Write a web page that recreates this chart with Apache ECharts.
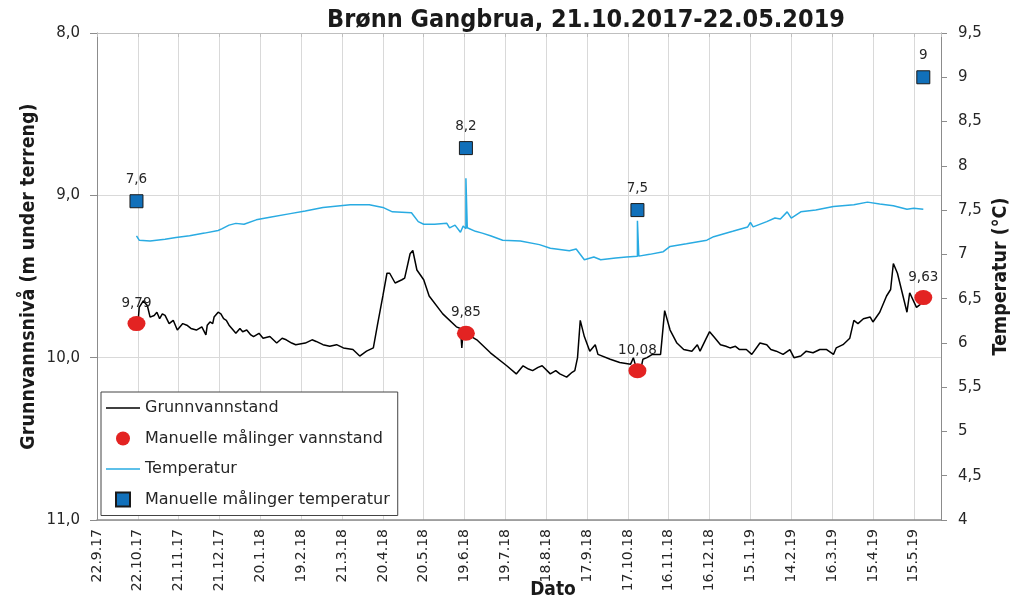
<!DOCTYPE html>
<html>
<head>
<meta charset="utf-8">
<script src="https://cdn.jsdelivr.net/npm/echarts@6/dist/echarts.min.js"></script>
<style>
  html, body { margin: 0; padding: 0; background: #fff; }
  #chart { width: 1014px; height: 599px; }
</style>
</head>
<body>
<div id="chart"></div>
<script>
// x-akse: dager etter 22.9.2017, ett merke hver 30. dag
const tickLabels = ['22.9.17', '22.10.17', '21.11.17', '21.12.17', '20.1.18', '19.2.18', '21.3.18',
  '20.4.18', '20.5.18', '19.6.18', '19.7.18', '18.8.18', '17.9.18', '17.10.18', '16.11.18',
  '16.12.18', '15.1.19', '14.2.19', '16.3.19', '15.4.19', '15.5.19'];

// Grunnvannstand (m under terreng)
const levelDates = ['22.10.2017', '23.10.2017', '26.10.2017', '29.10.2017', '31.10.2017', '03.11.2017',
  '05.11.2017', '07.11.2017', '09.11.2017', '11.11.2017', '14.11.2017', '17.11.2017', '20.11.2017',
  '24.11.2017', '27.11.2017', '30.11.2017', '04.12.2017', '08.12.2017', '11.12.2017', '12.12.2017',
  '14.12.2017', '16.12.2017', '17.12.2017', '20.12.2017', '22.12.2017', '24.12.2017', '26.12.2017',
  '28.12.2017', '31.12.2017', '02.01.2018', '05.01.2018', '07.01.2018', '10.01.2018', '13.01.2018',
  '15.01.2018', '19.01.2018', '22.01.2018', '27.01.2018', '01.02.2018', '05.02.2018', '08.02.2018',
  '12.02.2018', '15.02.2018', '22.02.2018', '27.02.2018', '02.03.2018', '07.03.2018', '12.03.2018',
  '17.03.2018', '22.03.2018', '29.03.2018', '03.04.2018', '08.04.2018', '13.04.2018', '16.04.2018',
  '20.04.2018', '23.04.2018', '25.04.2018', '29.04.2018', '04.05.2018', '06.05.2018', '10.05.2018',
  '12.05.2018', '15.05.2018', '20.05.2018', '24.05.2018', '03.06.2018', '13.06.2018', '16.06.2018',
  '17.06.2018', '18.06.2018', '20.06.2018', '28.06.2018', '08.07.2018', '20.07.2018', '27.07.2018',
  '01.08.2018', '05.08.2018', '08.08.2018', '12.08.2018', '15.08.2018', '21.08.2018', '25.08.2018',
  '28.08.2018', '02.09.2018', '06.09.2018', '08.09.2018', '10.09.2018', '12.09.2018', '15.09.2018',
  '19.09.2018', '23.09.2018', '25.09.2018', '04.10.2018', '11.10.2018', '19.10.2018', '21.10.2018',
  '23.10.2018', '27.10.2018', '28.10.2018', '31.10.2018', '04.11.2018', '10.11.2018', '13.11.2018',
  '17.11.2018', '22.11.2018', '27.11.2018', '03.12.2018', '07.12.2018', '09.12.2018', '13.12.2018',
  '16.12.2018', '19.12.2018', '24.12.2018', '28.12.2018', '31.12.2018', '04.01.2019', '07.01.2019',
  '12.01.2019', '16.01.2019', '22.01.2019', '27.01.2019', '30.01.2019', '03.02.2019', '08.02.2019',
  '13.02.2019', '16.02.2019', '21.02.2019', '25.02.2019', '02.03.2019', '07.03.2019', '12.03.2019',
  '17.03.2019', '19.03.2019', '24.03.2019', '29.03.2019', '01.04.2019', '04.04.2019', '08.04.2019',
  '13.04.2019', '15.04.2019', '20.04.2019', '25.04.2019', '28.04.2019', '30.04.2019', '03.05.2019',
  '10.05.2019', '12.05.2019', '17.05.2019', '20.05.2019'];
const levelValues = [9.80, 9.69, 9.65, 9.68, 9.75, 9.74,
  9.72, 9.76, 9.73, 9.74, 9.79, 9.77, 9.83,
  9.79, 9.80, 9.82, 9.83, 9.81, 9.86, 9.80,
  9.78, 9.79, 9.75, 9.72, 9.73, 9.76, 9.77,
  9.80, 9.83, 9.85, 9.82, 9.84, 9.83, 9.86,
  9.87, 9.85, 9.88, 9.87, 9.91, 9.88, 9.89,
  9.91, 9.92, 9.91, 9.89, 9.90, 9.92, 9.93,
  9.92, 9.94, 9.95, 9.99, 9.96, 9.94, 9.80,
  9.62, 9.48, 9.48, 9.54, 9.52, 9.51, 9.36,
  9.34, 9.46, 9.52, 9.62, 9.73, 9.81, 9.82,
  9.94, 9.83, 9.85, 9.89, 9.97, 10.05, 10.10,
  10.05, 10.07, 10.08, 10.06, 10.05, 10.10, 10.08,
  10.10, 10.12, 10.09, 10.08, 10.00, 9.77, 9.87,
  9.96, 9.92, 9.98, 10.01, 10.03, 10.04, 10.00,
  10.06, 10.05, 10.01, 10.00, 9.98, 9.98, 9.71,
  9.83, 9.91, 9.95, 9.96, 9.92, 9.96, 9.89,
  9.84, 9.87, 9.92, 9.93, 9.94, 9.93, 9.95,
  9.95, 9.98, 9.91, 9.92, 9.95, 9.96, 9.98,
  9.95, 10.00, 9.99, 9.96, 9.97, 9.95, 9.95,
  9.98, 9.94, 9.92, 9.88, 9.77, 9.79, 9.76,
  9.75, 9.78, 9.72, 9.62, 9.58, 9.42, 9.48,
  9.72, 9.60, 9.69, 9.67];

// Temperatur (°C)
const tempDates = ['21.10.2017', '23.10.2017', '31.10.2017', '11.11.2017', '19.11.2017', '29.11.2017',
  '10.12.2017', '20.12.2017', '23.12.2017', '28.12.2017', '02.01.2018', '08.01.2018', '17.01.2018',
  '27.01.2018', '11.02.2018', '22.02.2018', '07.03.2018', '27.03.2018', '10.04.2018', '20.04.2018',
  '27.04.2018', '11.05.2018', '16.05.2018', '20.05.2018', '28.05.2018', '06.06.2018', '08.06.2018',
  '12.06.2018', '16.06.2018', '18.06.2018', '20.06.2018', '20.06.2018', '21.06.2018', '27.06.2018',
  '02.07.2018', '08.07.2018', '17.07.2018', '30.07.2018', '13.08.2018', '21.08.2018', '04.09.2018',
  '09.09.2018', '15.09.2018', '22.09.2018', '27.09.2018', '08.10.2018', '16.10.2018', '24.10.2018',
  '24.10.2018', '25.10.2018', '02.11.2018', '12.11.2018', '17.11.2018', '29.11.2018', '14.12.2018',
  '19.12.2018', '02.01.2019', '13.01.2019', '15.01.2019', '17.01.2019', '27.01.2019', '02.02.2019',
  '06.02.2019', '11.02.2019', '14.02.2019', '21.02.2019', '04.03.2019', '17.03.2019', '01.04.2019',
  '11.04.2019', '20.04.2019', '30.04.2019', '10.05.2019', '15.05.2019', '22.05.2019'];
const tempValues = [7.21, 7.16, 7.15, 7.17, 7.19, 7.21,
  7.24, 7.27, 7.29, 7.33, 7.35, 7.34, 7.39,
  7.42, 7.46, 7.49, 7.53, 7.56, 7.56, 7.53,
  7.48, 7.47, 7.37, 7.34, 7.34, 7.35, 7.30,
  7.33, 7.25, 7.32, 7.29, 7.86, 7.30, 7.26,
  7.24, 7.21, 7.16, 7.15, 7.11, 7.07, 7.04,
  7.06, 6.94, 6.97, 6.94, 6.96, 6.97, 6.98,
  7.38, 6.98, 7.00, 7.03, 7.09, 7.12, 7.16,
  7.20, 7.26, 7.31, 7.36, 7.31, 7.37, 7.41,
  7.40, 7.48, 7.41, 7.48, 7.50, 7.54, 7.56,
  7.59, 7.57, 7.55, 7.51, 7.52, 7.51];

// Manuelle målinger
const manualLevelDates = ['21.10.2017', '20.06.2018', '24.10.2018', '22.05.2019'];
const manualLevelValues = [9.79, 9.85, 10.08, 9.63];
const manualTempDates = ['21.10.2017', '20.06.2018', '24.10.2018', '22.05.2019'];
const manualTempValues = [7.6, 8.2, 7.5, 9];

const DAY0 = Date.UTC(2017, 8, 22);
function dayNo(s) {
  const [d, m, y] = s.split('.').map(Number);
  return (Date.UTC(y, m - 1, d) - DAY0) / 86400000;
}
function pairs(dates, values) {
  return dates.map((d, i) => [dayNo(d), values[i]]);
}
const comma = v => String(v).replace('.', ',');

const FONT = 'DejaVu Sans';
const BOLD = '"DejaVu Sans Condensed", "Liberation Sans", sans-serif';
const TXT = '#262626';

let myChart = echarts.init(document.getElementById('chart'));
myChart.setOption({
  animation: false,
  backgroundColor: '#fff',
  textStyle: { fontFamily: FONT, color: TXT },
  title: {
    text: 'Brønn Gangbrua, 21.10.2017-22.05.2019',
    left: 322,
    top: 3,
    textStyle: { fontFamily: BOLD, fontWeight: 'bold', fontSize: 25, color: '#1a1a1a' }
  },
  grid: { left: 97, right: 73, top: 33, bottom: 79, outerBoundsMode: 'none' },
  legend: {
    orient: 'vertical',
    left: 101,
    top: 392,
    padding: [8, 8, 8, 5],
    itemGap: 14.5,
    itemWidth: 34,
    itemHeight: 14,
    symbolKeepAspect: true,
    backgroundColor: '#fff',
    borderColor: '#444',
    borderWidth: 1,
    borderRadius: 0,
    textStyle: { fontFamily: FONT, fontSize: 16, color: TXT },
    data: [
      { name: 'Grunnvannstand', icon: 'path://M0,0H34V1.4H0Z' },
      { name: 'Manuelle målinger vannstand', icon: 'circle' },
      { name: 'Temperatur', icon: 'path://M0,0H34V1.4H0Z' },
      { name: 'Manuelle målinger temperatur', icon: 'path://M0,0H10V10H0Z' }
    ]
  },
  xAxis: [{
    type: 'value',
    min: 0,
    max: 620,
    interval: 30,
    position: 'bottom',
    name: 'Dato',
    nameLocation: 'middle',
    nameGap: 61,
    nameMoveOverlap: false,
    nameTextStyle: { fontFamily: BOLD, fontWeight: 'bold', fontSize: 19, color: '#1a1a1a', padding: [0, 0, 0, 68] },
    axisLine: { onZero: false, lineStyle: { color: '#8c8c8c', width: 1.5 } },
    axisTick: { show: false },
    axisLabel: {
      rotate: 90,
      fontSize: 14,
      color: TXT,
      margin: 9,
      formatter: v => (v % 30 === 0 && tickLabels[v / 30]) || ''
    },
    splitLine: { show: true, lineStyle: { color: '#d9d9d9', width: 1 } }
  }, {
    type: 'value',
    min: 0,
    max: 620,
    interval: 30,
    position: 'top',
    axisLine: { onZero: false, lineStyle: { color: '#bfbfbf' } },
    axisTick: { show: true, inside: true, length: 4, lineStyle: { color: '#bfbfbf' } },
    axisLabel: { show: false },
    splitLine: { show: false }
  }],
  yAxis: [{
    type: 'value',
    inverse: true,
    min: 8,
    max: 11,
    interval: 1,
    position: 'left',
    name: 'Grunnvannsnivå (m under terreng)',
    nameLocation: 'middle',
    nameGap: 58,
    nameMoveOverlap: false,
    nameTextStyle: { fontFamily: BOLD, fontWeight: 'bold', fontSize: 19.5, color: '#1a1a1a' },
    axisLine: { show: true, onZero: false, lineStyle: { color: '#8c8c8c' } },
    axisTick: { show: true, length: 7, lineStyle: { color: '#8c8c8c' } },
    axisLabel: { fontSize: 15, color: TXT, margin: 17, formatter: v => v.toFixed(1).replace('.', ',') },
    splitLine: { show: true, lineStyle: { color: '#d9d9d9' } }
  }, {
    type: 'value',
    min: 4,
    max: 9.5,
    interval: 0.5,
    position: 'right',
    name: 'Temperatur (°C)',
    nameLocation: 'middle',
    nameGap: 50,
    nameMoveOverlap: false,
    nameTextStyle: { fontFamily: BOLD, fontWeight: 'bold', fontSize: 19.5, color: '#1a1a1a' },
    axisLine: { show: true, onZero: false, lineStyle: { color: '#8c8c8c' } },
    axisTick: { show: true, length: 6, lineStyle: { color: '#8c8c8c' } },
    axisLabel: { fontSize: 15, color: TXT, margin: 17, formatter: v => comma(v) },
    splitLine: { show: false }
  }],
  series: [{
    name: 'Grunnvannstand',
    type: 'line',
    yAxisIndex: 0,
    symbol: 'none',
    lineStyle: { color: '#000', width: 1.5 },
    itemStyle: { color: '#000' },
    data: pairs(levelDates, levelValues),
    z: 3
  }, {
    name: 'Temperatur',
    type: 'line',
    yAxisIndex: 1,
    symbol: 'none',
    lineStyle: { color: '#29abe2', width: 1.5 },
    itemStyle: { color: '#29abe2' },
    data: pairs(tempDates, tempValues),
    z: 3
  }, {
    name: 'Manuelle målinger vannstand',
    type: 'scatter',
    yAxisIndex: 0,
    symbol: 'circle',
    symbolSize: [18, 15],
    itemStyle: { color: '#e32322', opacity: 1 },
    label: {
      show: true,
      position: 'top',
      distance: 6,
      fontSize: 13.5,
      color: TXT,
      formatter: p => p.value[1].toFixed(2).replace('.', ',')
    },
    data: pairs(manualLevelDates, manualLevelValues),
    z: 4
  }, {
    name: 'Manuelle målinger temperatur',
    type: 'scatter',
    yAxisIndex: 1,
    symbol: 'rect',
    symbolSize: 13,
    itemStyle: { color: '#1170ba', borderColor: '#1a1a1a', borderWidth: 1, opacity: 1 },
    label: {
      show: true,
      position: 'top',
      distance: 8,
      fontSize: 13.5,
      color: TXT,
      formatter: p => comma(p.value[1])
    },
    data: pairs(manualTempDates, manualTempValues),
    z: 4
  }]
});
</script>
</body>
</html>
